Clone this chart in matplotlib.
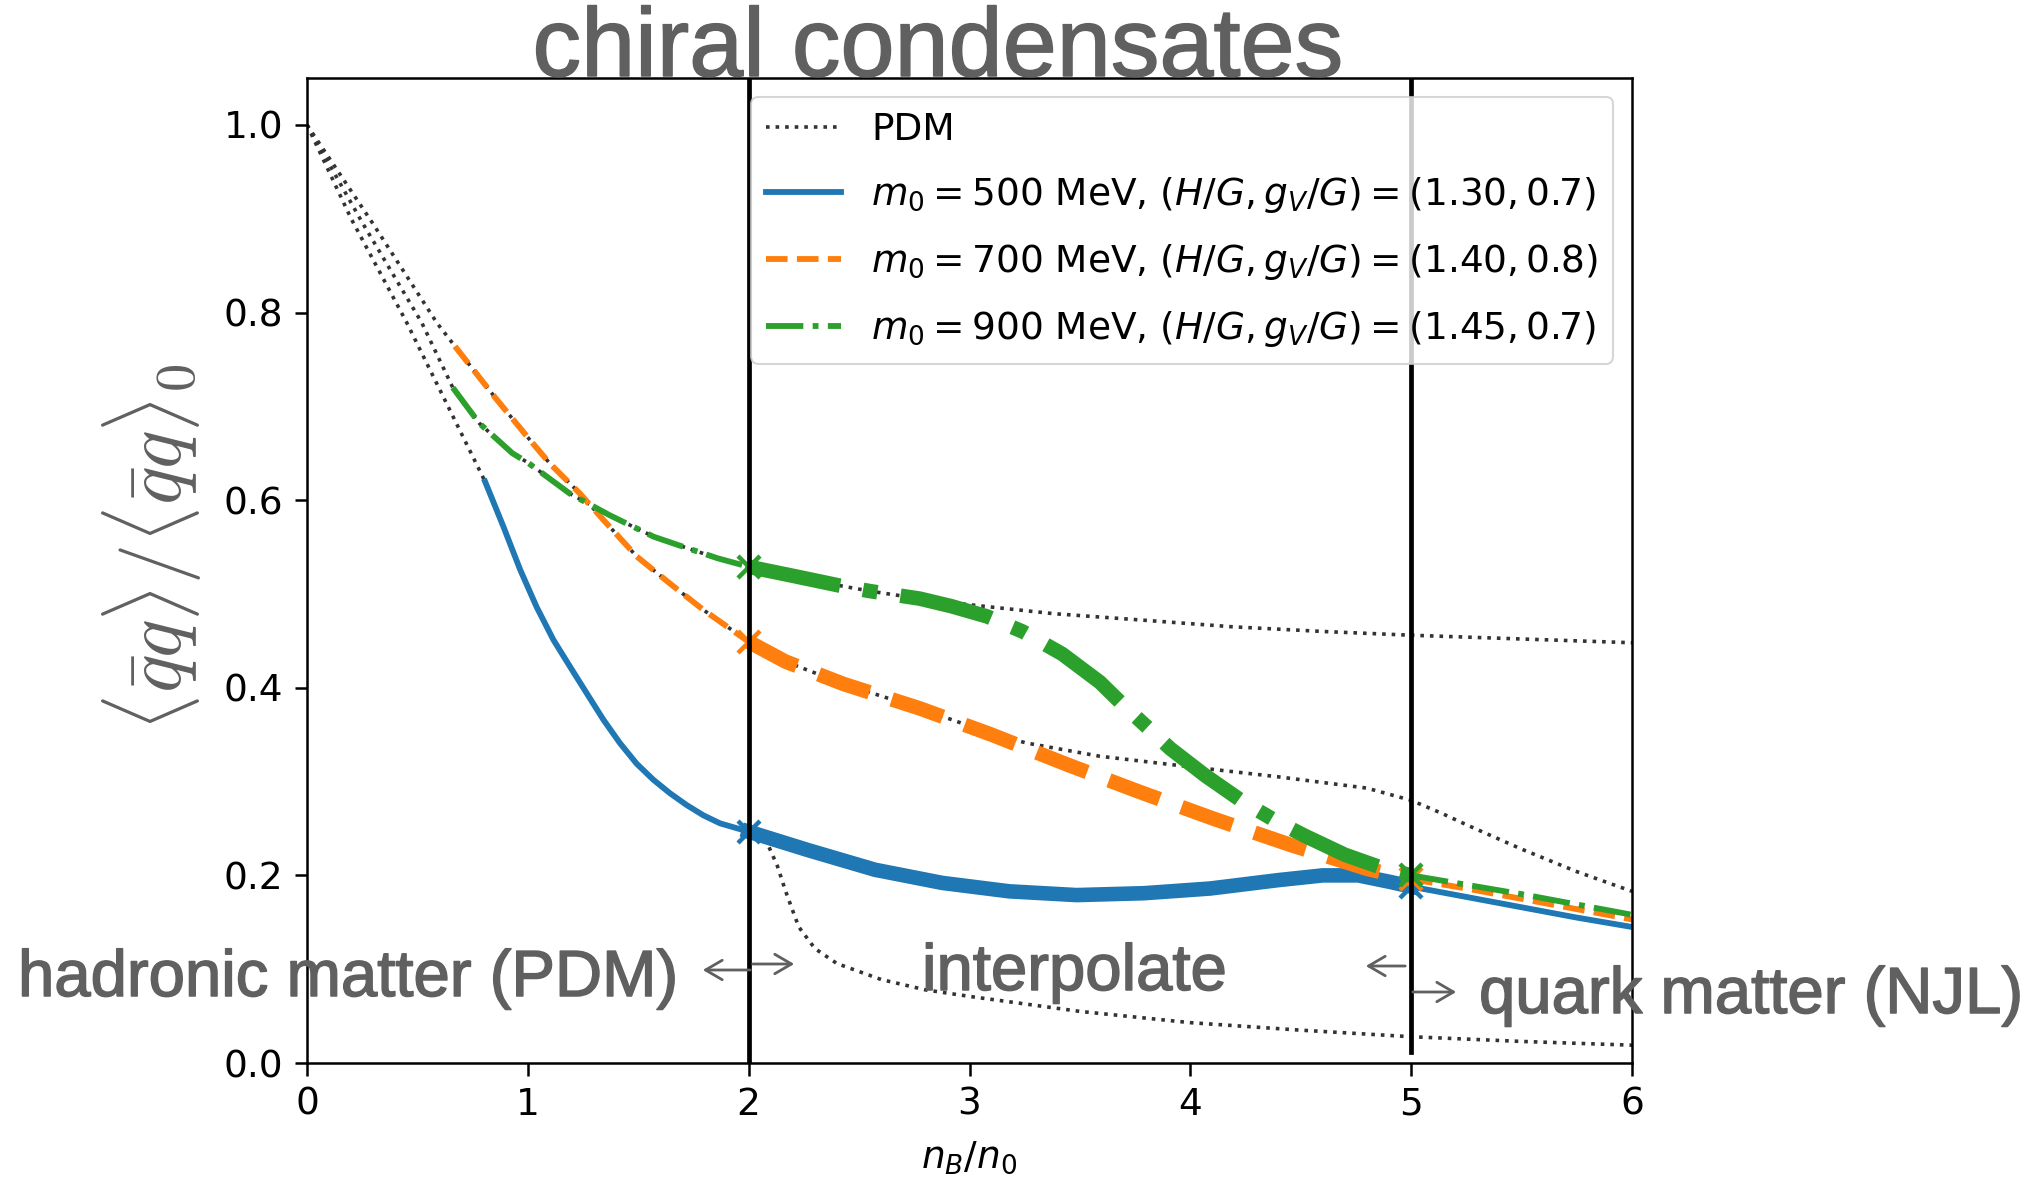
import numpy as np
import matplotlib
matplotlib.use("Agg")
import matplotlib.pyplot as plt
import matplotlib.patheffects as pe
from matplotlib.patches import FancyArrowPatch

# --- data --------------------------------------------------------------
# PDM curves (dotted), one per m0
pdm500_x = [0, 0.2, 0.45, 0.806, 0.889, 0.965, 1.04, 1.116, 1.191, 1.267, 1.342, 1.417,
            1.493, 1.568, 1.644, 1.719, 1.795, 1.87, 2.0, 2.05, 2.085, 2.13, 2.166, 2.2,
            2.227, 2.3, 2.4, 2.6, 2.8, 3.0, 3.5, 4.0, 4.5, 5.0, 5.5, 6.0]
pdm500_y = [1.0, 0.9, 0.79, 0.62, 0.572, 0.526, 0.486, 0.451, 0.4225, 0.394, 0.366, 0.341,
            0.319, 0.302, 0.2875, 0.275, 0.264, 0.2555, 0.2466, 0.242, 0.234, 0.21, 0.184,
            0.162, 0.145, 0.122, 0.106, 0.089, 0.078, 0.071, 0.055, 0.043, 0.035, 0.028,
            0.023, 0.019]
pdm700_x = [0, 0.295, 0.588, 0.67, 0.86, 1.01, 1.1, 1.236, 1.342, 1.493, 1.644, 1.795, 2.0,
            2.166, 2.43, 2.775, 3.1, 3.26, 3.59, 3.99, 4.4, 4.8, 5.0, 5.14, 5.25, 5.5,
            5.75, 6.0]
pdm700_y = [1.0, 0.896, 0.789, 0.764, 0.707, 0.664, 0.639, 0.607, 0.579, 0.54, 0.511,
            0.483, 0.449, 0.428, 0.404, 0.378, 0.351, 0.341, 0.327, 0.316, 0.305, 0.293,
            0.28, 0.266, 0.254, 0.228, 0.204, 0.183]
pdm900_x = [0, 0.25, 0.52, 0.66, 0.78, 0.93, 1.0, 1.19, 1.37, 1.57, 1.72, 1.86, 2.0, 2.207,
            2.41, 2.55, 2.775, 3.02, 3.38, 3.79, 4.19, 4.6, 5.0, 5.5, 6.0]
pdm900_y = [1.0, 0.896, 0.789, 0.72, 0.682, 0.65, 0.64, 0.607, 0.584, 0.561, 0.549, 0.538,
            0.529, 0.519, 0.509, 0.503, 0.495, 0.488, 0.479, 0.472, 0.465, 0.46, 0.456,
            0.452, 0.448]

# m0 = 500 MeV : hadronic (PDM) / interpolated / quark (NJL)
b_had_x = pdm500_x[3:19]
b_had_y = pdm500_y[3:19]
b_int_x = [2.0, 2.268, 2.572, 2.876, 3.18, 3.485, 3.79, 4.09, 4.4, 4.6, 4.76, 4.905, 5.0]
b_int_y = [0.2466, 0.227, 0.206, 0.192, 0.183, 0.179, 0.181, 0.186, 0.195, 0.2, 0.2,
           0.193, 0.188]
b_njl_x = [5.0, 5.25, 5.5, 5.75, 6.0]
b_njl_y = [0.188, 0.177, 0.166, 0.155, 0.145]

# m0 = 700 MeV
o_had_x = pdm700_x[3:13]
o_had_y = pdm700_y[3:13]
o_int_x = [2.0, 2.166, 2.43, 2.775, 3.1, 3.444, 3.77, 4.11, 4.46, 4.8, 5.0]
o_int_y = [0.449, 0.428, 0.404, 0.378, 0.35, 0.318, 0.289, 0.26, 0.232, 0.207, 0.196]
o_njl_x = [5.0, 5.25, 5.5, 5.75, 6.0]
o_njl_y = [0.196, 0.186, 0.175, 0.164, 0.153]

# m0 = 900 MeV
g_had_x = pdm900_x[3:13]
g_had_y = pdm900_y[3:13]
g_int_x = [2.0, 2.207, 2.41, 2.55, 2.775, 2.917, 3.08, 3.24, 3.42, 3.59, 3.69, 3.8, 3.91,
           4.07, 4.235, 4.38, 4.52, 4.7, 4.88, 5.0]
g_int_y = [0.529, 0.519, 0.509, 0.503, 0.495, 0.487, 0.476, 0.46, 0.436, 0.406, 0.383,
           0.359, 0.335, 0.306, 0.279, 0.259, 0.242, 0.222, 0.207, 0.2]
g_njl_x = [5.0, 5.25, 5.5, 5.75, 6.0]
g_njl_y = [0.2, 0.19, 0.18, 0.169, 0.158]

labels = ["PDM",
          r"$m_0 = 500$ MeV, $(H/G, g_V/G) = (1.30, 0.7)$",
          r"$m_0 = 700$ MeV, $(H/G, g_V/G) = (1.40, 0.8)$",
          r"$m_0 = 900$ MeV, $(H/G, g_V/G) = (1.45, 0.7)$"]

W, H = 2042, 1179
gray = "#606060"
thin = 4.2
thick = 10.5
fs = 27

fig = plt.figure(figsize=(W / 100, H / 100), dpi=100)
ax = fig.add_axes([307 / W, 1 - 1063 / H, 1325 / W, 985 / H])

# PDM
pdm_kw = dict(color="#333333", ls=":", lw=2.6)
ax.plot(pdm500_x, pdm500_y, label=labels[0], **pdm_kw)
ax.plot(pdm700_x, pdm700_y, **pdm_kw)
ax.plot(pdm900_x, pdm900_y, **pdm_kw)

models = [
    ("tab:blue", "-", b_had_x, b_had_y, b_int_x, b_int_y, b_njl_x, b_njl_y),
    ("tab:orange", "--", o_had_x, o_had_y, o_int_x, o_int_y, o_njl_x, o_njl_y),
    ("tab:green", "-.", g_had_x, g_had_y, g_int_x, g_int_y, g_njl_x, g_njl_y),
]
for i, (c, ls, hx, hy, ix, iy, nx, ny) in enumerate(models):
    ax.plot(hx, hy, color=c, ls=ls, lw=thin, label=labels[i + 1])
    ax.plot(ix, iy, color=c, ls=ls, lw=thick)
    ax.plot(nx, ny, color=c, ls=ls, lw=thin)
    ax.plot([ix[0], ix[-1]], [iy[0], iy[-1]], ls="none", marker="x", ms=16, mew=3.2,
            color=c)

# boundaries of the interpolation window
ax.plot([2, 2], [0, 1.05], color="k", lw=3.4)
ax.plot([5, 5], [0.012, 1.05], color="k", lw=3.4)

ax.set_xlim(0, 6)
ax.set_ylim(0, 1.05)
ax.set_xticks([0, 1, 2, 3, 4, 5, 6])
ax.set_yticks([0.0, 0.2, 0.4, 0.6, 0.8, 1.0])
ax.tick_params(labelsize=fs, length=9, width=1.8, pad=8)
for s in ax.spines.values():
    s.set_linewidth(1.8)
ax.set_xlabel(r"$n_B/n_0$", fontsize=27, labelpad=12)

leg = ax.legend(loc="upper right", fontsize=fs, handlelength=2.0, labelspacing=0.72,
                borderaxespad=0.5, framealpha=0.8)
leg.get_frame().set_linewidth(1.5)

# overlaid annotations
fig.text(152 / W, 1 - 547 / H, r"$\langle\bar{q}q\rangle/\langle\bar{q}q\rangle_0$",
         rotation=90, ha="center", va="center", fontsize=58, color=gray,
         math_fontfamily="cm")
bold = [pe.withStroke(linewidth=1.1, foreground=gray)]
tkw = dict(color=gray, family="Liberation Sans", path_effects=bold)
fig.text(938 / W, 1 - 76 / H, "chiral condensates", ha="center", va="baseline",
         fontsize=70, **tkw)
fig.text(18 / W, 1 - 996 / H, "hadronic matter (PDM)", ha="left", va="baseline",
         fontsize=47, **tkw)
fig.text(922 / W, 1 - 990 / H, "interpolate", ha="left", va="baseline",
         fontsize=47, **tkw)
fig.text(1479 / W, 1 - 1013 / H, "quark matter (NJL)", ha="left", va="baseline",
         fontsize=47, **tkw)

arrows = [(753, 970, 700, 970), (750, 964, 797, 964),
          (1408, 966, 1363, 966), (1410, 992, 1459, 992)]
for (x0, y0, x1, y1) in arrows:
    fig.add_artist(FancyArrowPatch(
        (x0 / W, 1 - y0 / H), (x1 / W, 1 - y1 / H), transform=fig.transFigure,
        arrowstyle="->,head_length=0.6,head_width=0.35", color=gray, lw=2,
        mutation_scale=20))

fig.savefig("out.png", dpi=100)
